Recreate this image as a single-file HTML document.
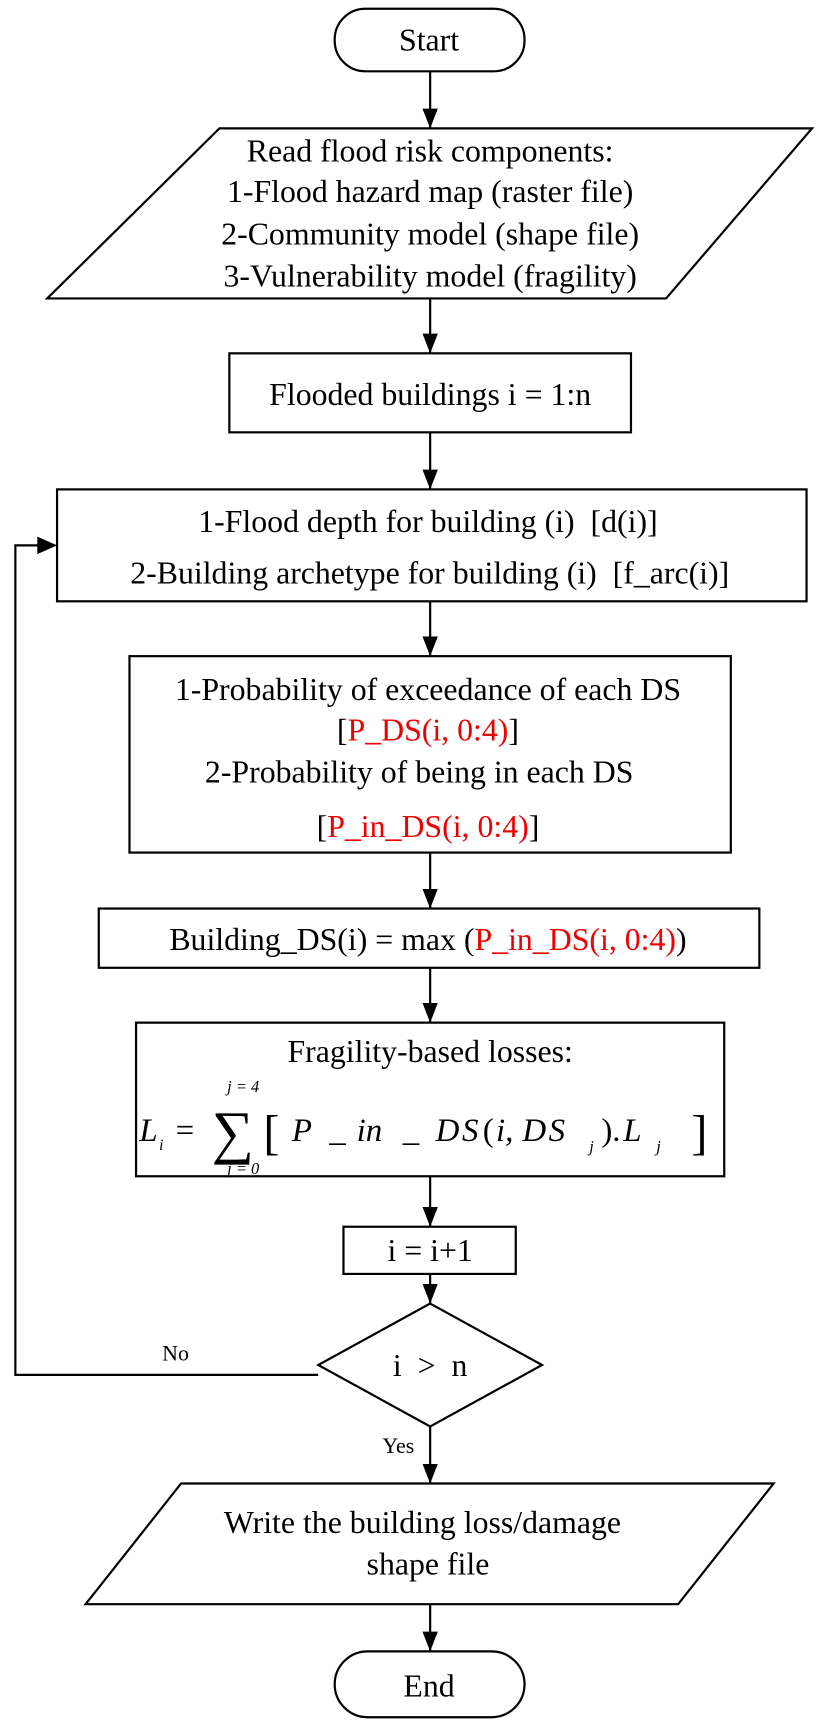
<!DOCTYPE html>
<html><head><meta charset="utf-8"><style>
html,body{margin:0;padding:0;background:#fff}
svg{display:block}
text{font-family:"Liberation Serif",serif;fill:#000}
.r{fill:#e00}
</style></head><body>
<svg width="823" height="1726" viewBox="0 0 750 1573" preserveAspectRatio="none">
<defs>
<marker id="ah" viewBox="0 0 14 18" markerWidth="14" markerHeight="18" refX="7" refY="18" orient="0" markerUnits="userSpaceOnUse"><path d="M0,0 L14,0 L7,18 z" fill="#000"/></marker></defs>
<g stroke="#000" stroke-width="2" fill="none">
<rect x="305" y="8" width="173" height="57" rx="28"/>
<polygon points="200,117 740,117 607,272 43,272"/>
<rect x="209" y="322" width="366" height="72"/>
<rect x="52" y="446" width="683" height="102"/>
<rect x="118" y="598" width="548" height="179"/>
<rect x="90" y="828" width="602" height="54"/>
<rect x="124" y="932" width="536" height="140"/>
<rect x="313" y="1118" width="157" height="43"/>
<polygon points="392,1188 494,1244 392,1300 290,1244"/>
<polygon points="165,1352 705,1352 618,1462 78,1462"/>
<rect x="305" y="1505" width="173" height="60" rx="30"/>
<g>
<line x1="392" y1="65" x2="392" y2="117" marker-end="url(#ah)"/>
<line x1="392" y1="272" x2="392" y2="322" marker-end="url(#ah)"/>
<line x1="392" y1="394" x2="392" y2="446" marker-end="url(#ah)"/>
<line x1="392" y1="548" x2="392" y2="598" marker-end="url(#ah)"/>
<line x1="392" y1="777" x2="392" y2="828" marker-end="url(#ah)"/>
<line x1="392" y1="882" x2="392" y2="932" marker-end="url(#ah)"/>
<line x1="392" y1="1072" x2="392" y2="1118" marker-end="url(#ah)"/>
<line x1="392" y1="1161" x2="392" y2="1188" marker-end="url(#ah)"/>
<line x1="392" y1="1300" x2="392" y2="1352" marker-end="url(#ah)"/>
<line x1="392" y1="1462" x2="392" y2="1505" marker-end="url(#ah)"/>
<polyline points="290,1253 14,1253 14,497 38,497"/>
<path d="M34,489 L52,497 L34,505 z" fill="#000" stroke="none"/>
</g>
</g>
<g font-size="29" text-anchor="middle">
<text x="391" y="46">Start</text>
<text x="392" y="147">Read flood risk components:</text>
<text x="392" y="184">1-Flood hazard map (raster file)</text>
<text x="392" y="223">2-Community model (shape file)</text>
<text x="392" y="261">3-Vulnerability model (fragility)</text>
<text x="392" y="369">Flooded buildings i = 1:n</text>
<text x="390" y="485" xml:space="preserve">1-Flood depth for building (i)  [d(i)]</text>
<text x="388" y="532" xml:space="preserve"> 2-Building archetype for building (i)  [f_arc(i)]</text>
<text x="390" y="638">1-Probability of exceedance of each DS</text>
<text x="390" y="675">[<tspan class="r">P_DS(i, 0:4)</tspan>]</text>
<text x="382" y="713">2-Probability of being in each DS</text>
<text x="390" y="763">[<tspan class="r">P_in_DS(i, 0:4)</tspan>]</text>
<text x="390" y="866">Building_DS(i) = max (<tspan class="r">P_in_DS(i, 0:4)</tspan>)</text>
<text x="392" y="968">Fragility-based losses:</text>
<text x="363" y="1324" font-size="20">Yes</text>
<text x="160" y="1240" font-size="20">No</text>
<text x="392" y="1254" xml:space="preserve">i  &gt;  n</text>
<text x="392" y="1149">i = i+1</text>
<text x="385" y="1397">Write the building loss/damage</text>
<text x="390" y="1435">shape file</text>
<text x="391" y="1546">End</text>
</g>
<g font-style="italic" font-size="30">
<text x="127" y="1040">L</text><text x="145" y="1048" font-size="14">i</text>
<text x="160" y="1040" font-style="normal">=</text>
<text x="193" y="1050" font-size="54" font-style="normal">∑</text>
<text x="207" y="995" font-size="15">j = 4</text>
<text x="207" y="1070" font-size="15">j = 0</text>
<text x="240" y="1047" font-size="44" font-style="normal">[</text>
<text x="266" y="1040">P</text>
<text x="300" y="1040">_</text>
<text x="325" y="1040">in</text>
<text x="367" y="1040">_</text>
<text x="397" y="1040">D</text><text x="421" y="1040">S</text>
<text x="440" y="1040" font-style="normal">(</text>
<text x="452" y="1040">i,</text>
<text x="476" y="1040">D</text><text x="500" y="1040">S</text>
<text x="537" y="1050" font-size="15">j</text>
<text x="548" y="1040" font-style="normal">).</text>
<text x="568" y="1040">L</text>
<text x="598" y="1050" font-size="15">j</text>
<text x="630" y="1047" font-size="44" font-style="normal">]</text>
</g>
</svg>
</body></html>
